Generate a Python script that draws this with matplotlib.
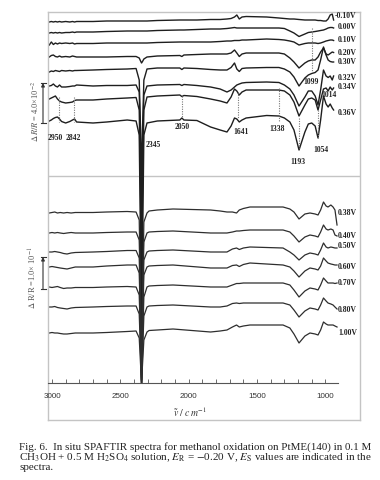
import matplotlib
matplotlib.use('Agg')
import matplotlib.pyplot as plt
from matplotlib.lines import Line2D
import numpy as np

plt.rcParams['mathtext.fontset'] = 'stix'
plt.rcParams['font.family'] = ['Liberation Serif', 'DejaVu Serif']

# ---------------- data ----------------
# wavenumber grids (cm^-1)
wn_top = [3020, 3005, 2990, 2975, 2960, 2945, 2930, 2900, 2870, 2850, 2835, 2820,
          2700, 2600, 2450, 2385, 2362, 2352, 2345, 2338, 2328, 2305, 2230,
          2065, 2050, 2035, 1940, 1840, 1770, 1720,
          1690, 1665, 1648, 1630, 1610, 1580,
          1430, 1340, 1300, 1260, 1230, 1193, 1150, 1125, 1100, 1075,
          1054, 1035, 1014, 995, 980, 965, 950, 940]
wn_bot = [3020, 3000, 2980, 2960, 2940, 2915, 2890, 2860, 2830,
          2700, 2600, 2450, 2385, 2362, 2352, 2345, 2338, 2328, 2305, 2290, 2230, 2115,
          1840, 1770, 1720, 1680, 1650, 1630, 1600, 1552, 1310, 1260, 1230, 1193, 1150, 1113,
          1075, 1054, 1035, 1014, 995, 981, 960, 944, 930, 915]

# stacked spectra (offset position; larger = lower)
top_m010 = [22, 21.5, 22, 21.5, 22, 21.5, 22, 21.5, 22, 21.5, 22, 21.5,
            21.5, 21, 21, 21, 21, 21, 21, 21, 21, 21, 20.5,
            20, 20, 20, 20, 19.5, 19.5, 19,
            18.5, 17, 15, 19, 17, 16.5,
            17, 18, 18.5, 19, 19, 19.5, 20, 20, 20, 20,
            20.5, 20.5, 21, 21, 19, 15, 14, 20]
top_000 = [33, 32.5, 33, 32.5, 33, 32.5, 33, 32.5, 32.5, 32, 32.5, 32,
           32, 31.5, 31, 31, 31, 31, 31, 31, 31, 31, 30.5,
           30, 30, 30, 29.5, 29, 29, 28.5,
           28, 27.5, 28, 28, 28, 28,
           28, 28, 28.5, 31, 33, 36.5, 34, 32.5, 32, 31.5,
           31, 30.5, 30, 29, 28, 27.5, 27.5, 28]
top_010 = [45, 42, 44.5, 43, 44, 43, 43.5, 43, 43.5, 43, 44, 43.5,
           43.5, 43, 43, 43, 43, 43, 43, 43, 43, 43, 42.5,
           42, 42, 42, 42, 42, 41.5, 41,
           41, 40.5, 40.5, 40.5, 40, 40,
           39, 39.5, 40, 41, 42, 45, 43.5, 43, 43, 43,
           43.5, 43, 42, 41, 40.5, 40, 40, 40.5]
top_020 = [57, 55.5, 55, 56.5, 57, 56, 57, 56.5, 57, 56, 56.5, 57,
           57, 57, 56.5, 56.5, 58, 61, 63, 61.5, 59, 57, 56,
           55.5, 56.5, 55, 54.5, 54, 54, 54,
           53, 50, 53, 56.5, 54, 53,
           53, 53, 54, 58, 62, 68, 63, 61, 60, 60,
           57, 52, 48, 54, 55, 53.5, 52, 52.5]
top_030 = [72, 71, 71.5, 70.5, 71, 71.5, 70.5, 71, 70.5, 71, 70.5, 70.5,
           70, 69.5, 69, 68.5, 80, 130, 180, 130, 80, 69, 68,
           68, 69.5, 68, 68.5, 69.5, 70, 70,
           67.5, 63, 69, 71.5, 68.5, 68,
           67.5, 67.5, 69, 72, 77, 86, 78, 75, 73.5, 72.5,
           70, 60, 47, 55, 60, 61.5, 62, 62]
top_032 = [86, 85.5, 84, 86, 87, 85, 87, 87, 86.5, 86, 86, 85,
           86, 85.5, 85.5, 85, 92, 150, 250, 150, 95, 86, 85,
           84.5, 85.5, 84.5, 85.5, 87, 89, 92,
           90, 87, 85, 84, 83, 82.5,
           82, 82.5, 85, 89, 95, 106, 97, 91, 91, 96,
           105, 90, 70, 76, 77.5, 76, 80, 76]
top_034 = [99, 98, 97, 96, 99, 101, 102, 103, 102.5, 102, 100.5, 100,
           100, 99, 98, 97.5, 110, 200, 320, 200, 110, 97, 96,
           95, 96.5, 95.5, 96.5, 99, 101, 103,
           97, 89, 91, 95, 92, 90,
           90, 90, 91, 95, 102, 116, 105, 99, 98, 100,
           110, 100, 89, 88, 91, 87, 90, 88]
top_036 = [121, 120, 118.5, 117.5, 117, 119, 121.5, 123, 121.5, 120, 119, 122,
           123, 122, 120, 121, 135, 250, 380, 250, 135, 123, 121,
           120, 118, 120, 120.5, 127, 130, 132,
           126, 118, 119, 122, 120, 118,
           115.5, 116, 118, 122, 130, 150, 132, 124, 123, 126,
           138, 120, 96, 104, 107, 104, 108, 110]

bot_038 = [213, 212.5, 212, 213, 212.5, 213, 212.5, 213, 212.5,
           212.5, 212, 211.5, 212, 220, 300, 383, 300, 222, 213, 211, 210, 209,
           210, 211, 212, 212, 213, 210, 208.5, 207, 207, 209, 212, 219, 214, 213,
           214, 215, 210, 202, 206, 207, 205, 207, 210, 225]
bot_040 = [233, 232.5, 233, 232.5, 233, 233.5, 233, 232.5, 233,
           233, 232.5, 232, 232, 240, 310, 383, 310, 242, 233, 232, 231.5, 231,
           233, 233, 233, 232, 231, 231, 230.5, 230, 230, 232, 236, 242, 237, 235,
           236, 237, 232, 225, 229, 230, 229, 230, 235, 236]
bot_050 = [252, 252, 251.5, 252, 252.5, 253.5, 254, 253, 252.5,
           252, 251.5, 250.5, 250.5, 258, 320, 383, 320, 260, 252, 251, 250.5, 250,
           252, 252, 252, 249, 248, 249.5, 248, 247, 248, 252, 255, 260, 255, 253,
           254, 255, 250, 243, 247, 248, 247, 247.5, 248, 248]
bot_060 = [267, 266.5, 267, 267.5, 268, 268.5, 269, 268, 267,
           267, 266, 265, 265, 273, 330, 383, 330, 275, 267, 266, 265.5, 265,
           268, 268, 268, 265.5, 265, 266.5, 264.5, 263, 265, 267, 271, 277, 271, 268,
           269, 270, 266, 258, 261, 263, 264, 264.5, 265, 265]
bot_070 = [287, 287.5, 287, 286.5, 287.5, 288.5, 288, 288, 287.5,
           287.5, 287, 286.5, 287, 295, 345, 383, 345, 297, 287, 286, 285.5, 285,
           287, 287, 287, 285, 283.5, 283.5, 283, 283, 283, 285, 290, 297, 291, 288,
           289, 290, 285, 278, 281, 283, 283, 283, 283.5, 283]
bot_080 = [307, 307, 306.5, 307.5, 308, 308.5, 309, 308, 307.5,
           307, 306.5, 306, 306, 314, 355, 383, 355, 316, 307, 306, 305.5, 305,
           307, 307, 306, 303.5, 303, 303.5, 303, 303, 303, 305, 310, 317, 311, 308,
           309, 310, 305, 298, 301, 303, 304, 305, 307, 309]
bot_100 = [333, 332.5, 333, 333, 333.5, 334, 334, 333.5, 333,
           333, 332.5, 331.5, 331, 338, 365, 383, 365, 340, 332, 330.5, 330, 329,
           332, 331, 330, 327, 325, 327, 326, 325, 325, 328, 334, 343, 336, 333,
           334, 335, 330, 322, 324, 325, 325, 325, 326, 327]

top_labels = ['-0.10V', '0.00V', '0.10V', '0.20V', '0.30V', '0.32V', '0.34V', '0.36V']
top_label_y = [16, 27, 40, 53, 62, 78, 87, 113]
bot_labels = ['0.38V', '0.40V', '0.50V', '0.60V', '0.70V', '0.80V', '1.00V']
bot_label_y = [213, 236, 246, 267, 283, 310, 333]

peak_names = ['2950', '2842', '2345', '2050', '1641', '1338', '1193', '1099', '1054', '1014']
peak_text_wn = [2974, 2847, 2261, 2049, 1620, 1354, 1200, 1105, 1032, 974]
peak_text_y = [138, 138, 145, 127, 132, 129, 162, 82, 150, 95]
mark_wn = [2950, 2842, 2050, 1641, 1338, 1193, 1099, 1054]
mark_y0 = [97, 97, 96, 92, 88, 118, 28, 110]
mark_y1 = [122, 122, 118, 118, 121, 148, 72, 138]

x_ticks = list(range(1000, 3001, 100))
x_ticklabels = ['1000', '', '', '', '', '1500', '', '', '', '', '2000', '', '', '', '',
                '2500', '', '', '', '', '3000']

# ---------------- figure ----------------
W, H = 380, 480
fig = plt.figure(figsize=(W / 100, H / 100), dpi=100)


def fx(px):
    return px / W


def fy(py):
    return 1 - py / H


ax = fig.add_axes([fx(48), fy(420), fx(360) - fx(48), fy(12) - fy(420)])
ax.set_xlim(3029.3, 746.9)
ax.set_ylim(420, 12)
ax.set_xticks([])
ax.set_yticks([])
for s in ax.spines.values():
    s.set_color('#c4c4c4')
    s.set_linewidth(1.0)
ax.axhline(176, color='#c4c4c4', lw=1.0)

top_series = [top_m010, top_000, top_010, top_020, top_030, top_032, top_034, top_036]
bot_series = [bot_038, bot_040, bot_050, bot_060, bot_070, bot_080, bot_100]

for ys in top_series:
    ax.plot(wn_top, ys, color='#1e1e1e', lw=1.0, solid_joinstyle='round')
for ys in bot_series:
    ax.plot(wn_bot, ys, color='#2e2e2e', lw=0.9, solid_joinstyle='round')

for i, (lab, y) in enumerate(zip(top_labels, top_label_y)):
    w = 930 if lab.startswith('-') else 908
    ax.text(w, y, lab, ha='left', va='center', fontsize=5.6, fontweight='bold',
            color='#222')
for lab, y in zip(bot_labels, bot_label_y):
    ax.text(908, y, lab, ha='left', va='center', fontsize=5.6, fontweight='bold',
            color='#222')

for name, w, y in zip(peak_names, peak_text_wn, peak_text_y):
    ax.text(w, y, name, ha='center', va='center', fontsize=5.5, fontweight='bold',
            color='#222')

ax.vlines(mark_wn, mark_y0, mark_y1, colors='#777777', linestyles=(0, (1, 1.2)), lw=0.8)

# x axis
ax2 = fig.add_axes([fx(48), fy(383), fx(338) - fx(48), 0.001])
ax2.set_xlim(3029.3, 907.8)
ax2.patch.set_alpha(0)
for k in ['top', 'left', 'right']:
    ax2.spines[k].set_visible(False)
ax2.spines['bottom'].set_color('#555555')
ax2.spines['bottom'].set_linewidth(0.8)
ax2.set_yticks([])
ax2.set_xticks(x_ticks)
ax2.set_xticklabels(x_ticklabels, fontfamily='Liberation Sans')
ax2.tick_params(axis='x', direction='in', length=3, width=0.6, color='#555555',
                labelsize=5.8, pad=7.5, labelcolor='#333333')

fig.text(fx(190), fy(412), r'$\tilde{v}\ /\ c\,m^{-1}$', ha='center', va='center',
         fontsize=7, color='#333')

# y scale labels
fig.text(fx(35), fy(111), r'$\Delta\,R/R$ = 4.0×10$^{-2}$', rotation=90, ha='center',
         va='center', fontsize=6, color='#555')
fig.text(fx(33), fy(278), r'$\Delta$ R/R =1.0× 10$^{-1}$', rotation=90, ha='center',
         va='center', fontsize=6, color='#555')

# scale bars
for (y0, y1) in [(123, 83), (289, 257)]:
    ax.annotate('', xy=(fx(43), fy(y1)), xytext=(fx(43), fy(y0)),
                xycoords='figure fraction', textcoords='figure fraction',
                arrowprops=dict(arrowstyle='-|>', lw=0.8, color='#333',
                                mutation_scale=5, shrinkA=0, shrinkB=0),
                annotation_clip=False)
    fig.add_artist(Line2D([fx(40.5), fx(45.5)], [fy(y0), fy(y0)], color='#333', lw=0.8,
                          transform=fig.transFigure))
    fig.add_artist(Line2D([fx(40.5), fx(45.5)], [fy(y1), fy(y1)], color='#333', lw=0.8,
                          transform=fig.transFigure))

# caption
cap1 = 'Fig. 6.  In situ SPAFTIR spectra for methanol oxidation on PtME(140) in 0.1 M'
cap2 = (r'CH$_3$OH + 0.5 M H$_2$SO$_4$ solution, $E_{\rm R}$ = $-$0.20 V, '
        r'$E_{\rm S}$ values are indicated in the')
cap3 = 'spectra.'
t1 = fig.text(fx(19), fy(447), cap1, ha='left', va='center', fontsize=7, color='#222')
t2 = fig.text(fx(19), fy(458), cap2, ha='left', va='center', fontsize=7, color='#222')
t3 = fig.text(fx(19), fy(468), cap3, ha='left', va='center', fontsize=7, color='#222')
fig.canvas.draw()
r = fig.canvas.get_renderer()
target = 373 - 19
s1 = 7 * target / t1.get_window_extent(r).width
t1.set_fontsize(s1)
s2 = 7 * target / t2.get_window_extent(r).width
t2.set_fontsize(s2)
t3.set_fontsize(s1)

fig.savefig('out.png', dpi=100)
